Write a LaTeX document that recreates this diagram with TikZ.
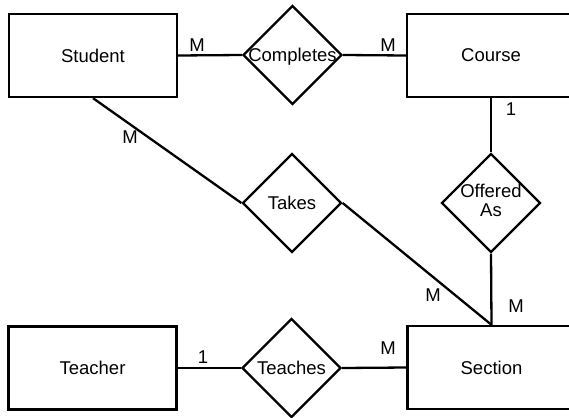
\documentclass[tikz,border=0pt]{standalone}
\usepackage{fontspec}
\setmainfont{Liberation Sans}
\usetikzlibrary{shapes.geometric}

\begin{document}
\begin{tikzpicture}[x=1pt,y=-1pt]
\newcommand{\entity}{\node[draw, rectangle, minimum width=168pt, minimum height=83pt, inner sep=0pt]}
\newcommand{\relation}{\node[draw, diamond, minimum width=99pt, minimum height=99pt, inner sep=0pt]}
\newcommand{\cardlabel}{\node[inner sep=0pt]}
\newcommand{\lettersize}{\fontsize{18.5pt}{21pt}\selectfont}

\tikzset{every path/.style={line width=2.3pt}}
\tikzset{every node/.style={font=\lettersize}}
    \useasboundingbox (0,0) rectangle (569,417);

    \entity (student) at (93,55.5) {Student};
    \entity (course) at (491,55.5) {Course};
    \entity (teacher) at (92.5,368) {Teacher};
    \entity (section) at (491.5,367.5) {Section};

    \relation (completes) at (292.5,55) {\makebox[0pt]{\raisebox{0pt}[\height][0pt]{Completes}}};
    \relation (takes) at (292,203) {\makebox[0pt]{Takes}};
    \relation (offered) at (491,203) {\makebox[0pt]{\begin{tabular}{@{}c@{}}Offered\\[-2pt]As\end{tabular}}};
    \relation (teaches) at (291.5,368) {\makebox[0pt]{Teaches}};

    \draw (student.east) -- (completes.west);
    \draw (completes.east) -- (course.west);
    \draw (student.south) -- (takes.west);
    \draw (takes.east) -- (section.north);
    \draw (course.south) -- (offered.north);
    \draw (offered.south) -- (section.north);
    \draw (teacher.east) -- (teaches.west);
    \draw (teaches.east) -- (section.west);

    \cardlabel (m1) at (197,45) {M};
    \cardlabel (m2) at (388,45) {M};
    \cardlabel (m3) at (130,137) {M};
    \cardlabel (c1) at (511,109) {1};
    \cardlabel (m4) at (433,295) {M};
    \cardlabel (m5) at (516,306) {M};
    \cardlabel (c2) at (203,357) {1};
    \cardlabel (m6) at (388,348) {M};
\end{tikzpicture}
\end{document}
